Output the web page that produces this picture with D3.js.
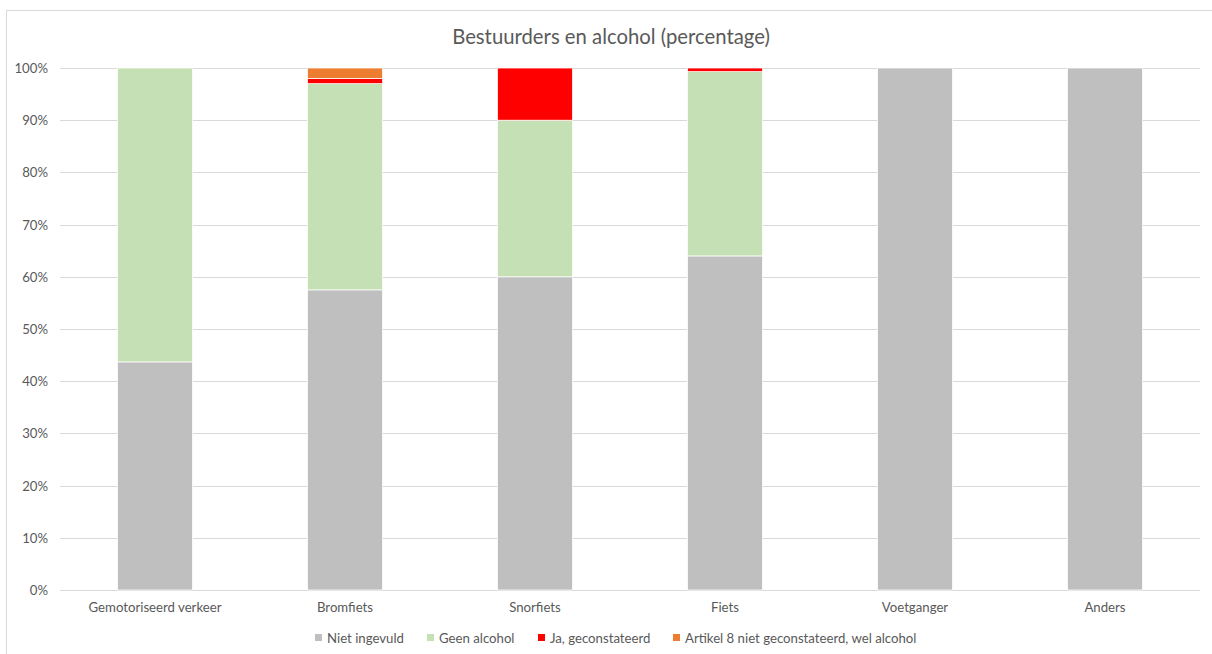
<!DOCTYPE html>
<html><head><meta charset="utf-8">
<script src="https://cdn.jsdelivr.net/npm/d3@7"></script>
<style>body{margin:0;background:#fff;} svg{display:block;}</style>
</head><body>
<svg id="c" width="1212" height="654"></svg>
<script>
const categories = ["Gemotoriseerd verkeer","Bromfiets","Snorfiets","Fiets","Voetganger","Anders"];
const seriesNames = ["Niet ingevuld","Geen alcohol","Ja, geconstateerd","Artikel 8 niet geconstateerd, wel alcohol"];
const nietIngevuld = [43.7, 57.5, 60.0, 64.0, 100, 100];
const geenAlcohol  = [56.3, 39.5, 30.0, 35.3, 0, 0];
const jaGeconst    = [0, 1.0, 10.0, 0.7, 0, 0];
const artikel8     = [0, 2.0, 0, 0, 0, 0];
const colors = ["#BFBFBF","#C5E0B4","#FF0000","#ED7D31"];
const yTicks = [0,10,20,30,40,50,60,70,80,90,100];

const svg = d3.select("#c");
const font = "Lato, sans-serif";
svg.append("rect").attr("x",6.5).attr("y",10.5).attr("width",1260).attr("height",700)
  .attr("fill","#fff").attr("stroke","#d9d9d9");

const m = {l:60, r:1200, t:68, b:590};
const x = d3.scaleBand().domain(categories).range([m.l,m.r]).paddingInner(0.605).paddingOuter(0.3025);
const y = d3.scaleLinear().domain([0,100]).range([m.b,m.t]);

svg.append("text").attr("x",611).attr("y",44).attr("text-anchor","middle")
  .attr("font-family",font).attr("font-size",20.3).attr("fill","#595959").text("Bestuurders en alcohol (percentage)");

svg.append("g").selectAll("line").data(yTicks).join("line")
  .attr("x1",m.l).attr("x2",m.r).attr("y1",d=>Math.round(y(d))+0.5).attr("y2",d=>Math.round(y(d))+0.5)
  .attr("stroke","#d9d9d9").attr("stroke-width",1);

svg.append("g").selectAll("text").data(yTicks).join("text")
  .attr("x",48).attr("y",d=>y(d)+5).attr("text-anchor","end")
  .attr("font-family",font).attr("font-size",13.2).attr("fill","#595959").text(d=>d+"%");

const rows = categories.map((c,i)=>({cat:c, s0:nietIngevuld[i], s1:geenAlcohol[i], s2:jaGeconst[i], s3:artikel8[i]}));
const stack = d3.stack().keys(["s0","s1","s2","s3"])(rows);
stack.forEach((layer,li)=>{
  svg.append("g").selectAll("rect").data(layer.filter(d=>d[1]-d[0]>0)).join("rect")
    .attr("x",d=>x(d.data.cat)).attr("width",x.bandwidth())
    .attr("y",d=>y(d[1])).attr("height",d=>y(d[0])-y(d[1]))
    .attr("fill",colors[li]).attr("stroke","#fff").attr("stroke-width",0.75);
});

svg.append("g").selectAll("text").data(categories).join("text")
  .attr("x",d=>x(d)+x.bandwidth()/2).attr("y",612).attr("text-anchor","middle")
  .attr("font-family",font).attr("font-size",13.2).attr("fill","#595959").text(d=>d);

const legX = [315, 427, 538, 673];
const lg = svg.append("g").selectAll("g").data(seriesNames).join("g")
  .attr("transform",(d,i)=>`translate(${legX[i]},638)`);
lg.append("rect").attr("x",0).attr("y",-4).attr("width",7).attr("height",7).attr("fill",(d,i)=>colors[i]);
lg.append("text").attr("x",12).attr("y",4.5).attr("font-family",font).attr("font-size",13.2).attr("fill","#595959").text(d=>d);
</script>
</body></html>
